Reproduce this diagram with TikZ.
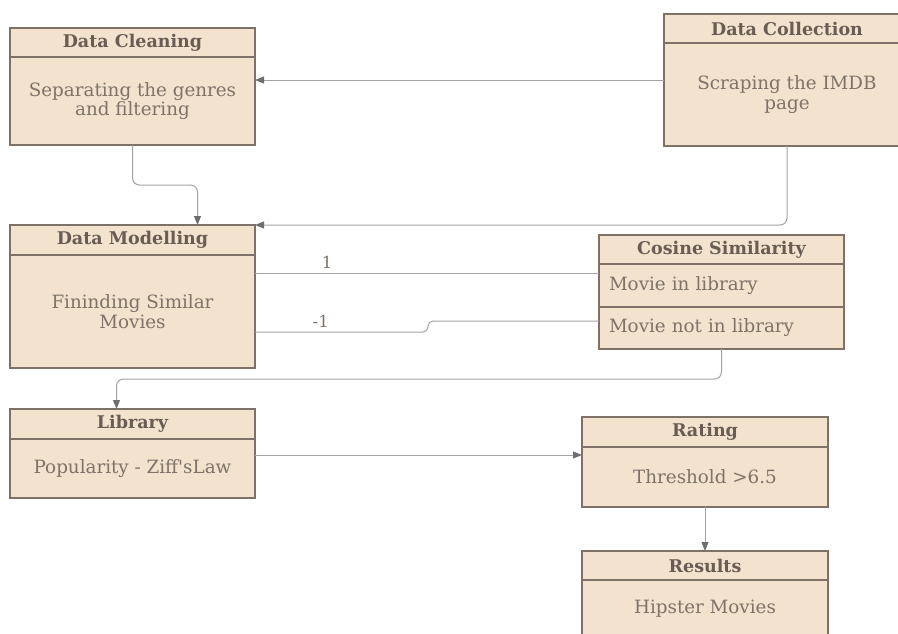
\documentclass[tikz,border=0pt]{standalone}
\usepackage{fontspec}
\setmainfont{DejaVu Serif}
\usetikzlibrary{positioning,calc,arrows.meta}
\definecolor{cardfill}{HTML}{F2E2CE}
\definecolor{cardline}{HTML}{7D7168}
\definecolor{headtext}{HTML}{685C54}
\definecolor{bodytext}{HTML}{7E7269}
\definecolor{wiregrey}{HTML}{A3A3A3}
\definecolor{tipgrey}{HTML}{6E6E6E}

\begin{document}
\begin{tikzpicture}[x=1pt, y=-1pt,
    head/.style={rectangle, draw=cardline, fill=cardfill, line width=1.3pt, outer sep=0pt, inner sep=0pt, minimum height=29pt, text=headtext, font=\bfseries\fontsize{17.5}{19}\selectfont},
    body/.style={rectangle, draw=cardline, fill=cardfill, line width=1.3pt, outer sep=0pt, inner sep=0pt, align=center, text=bodytext, font=\fontsize{18.3}{19.5}\selectfont},
    item/.style={body, align=left, text width=225pt, inner xsep=10pt, minimum height=43pt},
    wire/.style={draw=wiregrey, line width=1pt, rounded corners=7pt},
    arrow/.style={wire, -{Triangle[length=9pt, width=7pt, color=tipgrey]}},
    tag/.style={text=bodytext, font=\fontsize{16.5}{18}\selectfont},
]
    \clip (0,0) rectangle (898,633);

    % cards
    \node[head, minimum width=245pt, anchor=north west] (cleanhead) at (10,28) {Data Cleaning};
    \node[body, minimum width=245pt, minimum height=88pt, below=0pt of cleanhead] (clean) {Separating the genres\\and filtering};

    \node[head, minimum width=246pt, anchor=north west] (collecthead) at (664,14) {Data Collection};
    \node[body, minimum width=246pt, minimum height=103pt, below=0pt of collecthead] (collect) {Scraping the IMDB\\page};

    \node[head, minimum width=245pt, minimum height=30pt, anchor=north west] (modelhead) at (10,225) {Data Modelling};
    \node[body, minimum width=245pt, minimum height=113pt, below=0pt of modelhead] (model) {Fininding Similar\\Movies};

    \node[head, minimum width=245pt, anchor=north west] (cosinehead) at (599,235) {Cosine Similarity};
    \node[item, below=0pt of cosinehead] (inlib) {Movie in library};
    \node[item, minimum height=42pt, below=0pt of inlib] (notinlib) {Movie not in library};

    \node[head, minimum width=245pt, minimum height=30pt, anchor=north west] (libhead) at (10,409) {Library};
    \node[body, minimum width=245pt, minimum height=59pt, below=0pt of libhead] (lib) {Popularity - Ziff\textquotesingle sLaw};

    \node[head, minimum width=246pt, minimum height=30pt, anchor=north west] (ratehead) at (582,417) {Rating};
    \node[body, minimum width=246pt, minimum height=60pt, below=0pt of ratehead] (rate) {Threshold >6.5};

    \node[head, minimum width=246pt, anchor=north west] (resulthead) at (582,551) {Results};
    \node[body, minimum width=246pt, minimum height=58pt, below=0pt of resulthead] (result) {Hipster Movies};

    % connectors
    \draw[arrow] ([yshift=14.5pt]collect.west) coordinate (scrape) -- (scrape -| clean.east);
    \draw[arrow] (clean.south) -- ++(0,40) -| ([xshift=65pt]modelhead.north);
    \draw[arrow] (collect.south) |- (modelhead.north east);

    \coordinate (hit) at ([yshift=12.5pt]inlib.west);
    \draw[wire] (hit -| model.east) -- node[tag, pos=0.21, above=1pt] (one) {1} (hit);
    \coordinate (miss) at ([yshift=7pt]notinlib.west);
    \draw[wire, rounded corners=5pt] ([yshift=-20.5pt]model.east) -- node[tag, pos=0.38, above=1pt] (minusone) {-1} ++(173,0) |- (miss);

    \draw[arrow] (notinlib.south) -- ++(0,30) -| ([xshift=-16pt]libhead.north);
    \draw[arrow] ([yshift=13.5pt]lib.east) coordinate (pop) -- (pop -| rate.west);
    \draw[arrow] (rate.south) -- (resulthead.north);
\end{tikzpicture}
\end{document}
